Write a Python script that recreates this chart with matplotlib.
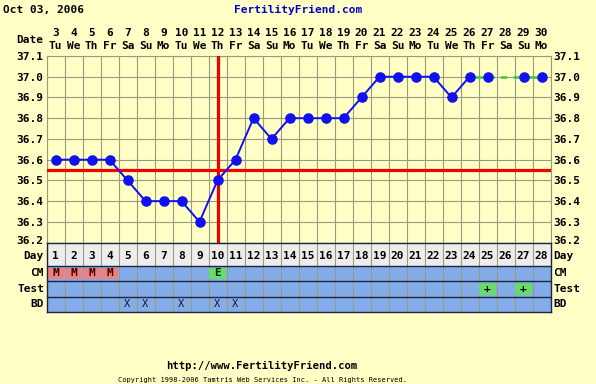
import matplotlib
matplotlib.use("Agg")
import matplotlib.pyplot as plt
from matplotlib.transforms import blended_transform_factory, ScaledTranslation
from matplotlib.patches import Rectangle

# ---------------- data ----------------
title_date = "Oct 03, 2006"
site = "FertilityFriend.com"
url = "http://www.FertilityFriend.com"
copyright_txt = "Copyright 1998-2006 Tamtris Web Services Inc. - All Rights Reserved."

days = list(range(1, 29))
dates = list(range(3, 31))
weekdays = ["Tu", "We", "Th", "Fr", "Sa", "Su", "Mo"] * 4
temps = [36.6, 36.6, 36.6, 36.6, 36.5, 36.4, 36.4, 36.4, 36.3, 36.5,
         36.6, 36.8, 36.7, 36.8, 36.8, 36.8, 36.8, 36.9, 37.0, 37.0,
         37.0, 37.0, 36.9, 37.0, 37.0, None, 37.0, 37.0]
green_from_day = 24
coverline = 36.55
ovulation_day = 10
y_ticks = [36.2, 36.3, 36.4, 36.5, 36.6, 36.7, 36.8, 36.9, 37.0, 37.1]

cm = ["M", "M", "M", "M", "", "", "", "", "", "E",
      "", "", "", "", "", "", "", "", "", "",
      "", "", "", "", "", "", "", ""]
test = [""] * 24 + ["+", "", "+", ""]
bd = ["", "", "", "", "X", "X", "", "X", "", "X",
      "X", "", "", "", "", "", "", "", "", "",
      "", "", "", "", "", "", "", ""]
row_names = ["Day", "CM", "Test", "BD"]
row_heights = [1.5, 1, 1, 1]

# ---------------- style ----------------
BG = "#FFFFC6"
GRID = "#9A9A80"
BLUE = "#1010F0"
RED = "#F00000"
GREEN = "#33CC33"
ROWBLUE = "#84ACE8"
DAYBG = "#EDEDED"
PINK = "#F08080"
CELLGREEN = "#66DD66"
DARK = "#1E2440"
MONO = "DejaVu Sans Mono"
FS = 8.0

W, H = 596, 384
fig = plt.figure(figsize=(W / 100, H / 100), dpi=100, facecolor=BG)

def fx(x):
    return x / W

def fy(y):
    return 1 - y / H

L, R = 46.5, 550.5
T, B = 56.0, 242.6
ax = fig.add_axes([fx(L), fy(B), fx(R - L), (B - T) / H])
ax.set_facecolor(BG)
ax.set_xlim(0.5, 28.5)
ax.set_ylim(36.2, 37.1)
for x in range(0, 29):
    ax.axvline(x + 0.5, color=GRID, lw=0.8, zorder=1)
for yv in y_ticks:
    ax.axhline(yv, color=GRID, lw=0.8, zorder=1)
for s in ax.spines.values():
    s.set_color(GRID)
    s.set_linewidth(0.8)
ax.set_xticks([])
ax.set_yticks(y_ticks)
ax.set_yticklabels([f"{v:.1f}" for v in y_ticks])
ax.tick_params(axis="y", length=0, pad=2, labelright=True, labelleft=True,
               labelsize=FS)
up = ScaledTranslation(0, 2.5 / 100, fig.dpi_scale_trans)
for lab in ax.get_yticklabels() + ax.yaxis.get_ticklabels(which="major"):
    lab.set_fontfamily(MONO)
    lab.set_fontweight("bold")
for t in ax.yaxis.get_major_ticks()[:1]:
    t.label1.set_transform(t.label1.get_transform() + up)
    t.label2.set_transform(t.label2.get_transform() + up)

# red lines
ax.axhline(coverline, color=RED, lw=2.3, zorder=3)
ax.axvline(ovulation_day, color=RED, lw=2.3, zorder=3)

# temperature line
blue_x = [d for d, t in zip(days, temps) if t is not None and d <= green_from_day]
blue_y = [t for d, t in zip(days, temps) if t is not None and d <= green_from_day]
ax.plot(blue_x, blue_y, color=BLUE, lw=1.4, zorder=4)
gx = [d for d, t in zip(days, temps) if t is not None and d >= green_from_day]
gy = [t for d, t in zip(days, temps) if t is not None and d >= green_from_day]
for i in range(len(gx) - 1):
    style = "-" if gx[i + 1] - gx[i] == 1 else (0, (2.5, 2.5))
    ax.plot([gx[i], gx[i + 1]], [gy[i], gy[i + 1]], color=GREEN, lw=1.8,
            linestyle=style, zorder=4)
px = [d for d, t in zip(days, temps) if t is not None]
py = [t for t in temps if t is not None]
ax.plot(px, py, linestyle="none", marker="o", ms=6.6, color=BLUE, zorder=5)

# header text
tr = blended_transform_factory(ax.transData, fig.transFigure)
font = dict(family=MONO, weight="bold", fontsize=FS)
for d, dt, wd in zip(days, dates, weekdays):
    ax.text(d, fy(33), str(dt), transform=tr, ha="center", va="center", **font)
    ax.text(d, fy(46), wd, transform=tr, ha="center", va="center", **font)
fig.text(fx(43), fy(40), "Date", ha="right", va="center", **font)
fig.text(fx(3), fy(10), title_date, ha="left", va="center", **font)
fig.text(fx(298), fy(10), site, ha="center", va="center", color="#0000CC", **font)
fig.text(fx(262), fy(366), url, ha="center", va="center", family=MONO,
         weight="bold", fontsize=7.6)
fig.text(fx(262), fy(380), copyright_txt, ha="center", va="center",
         family=MONO, fontsize=5.0)

# ---------------- bottom rows ----------------
B2 = 312.0
bx = fig.add_axes([fx(L), fy(B2), fx(R - L), (B2 - B) / H])
total = sum(row_heights)
bx.set_xlim(0.5, 28.5)
bx.set_ylim(total, 0)
bx.set_xticks([])
bx.set_yticks([])
for s in bx.spines.values():
    s.set_color(DARK)
    s.set_linewidth(1.0)

edges = [0]
for h in row_heights:
    edges.append(edges[-1] + h)
bx.add_patch(Rectangle((0.5, edges[0]), 28, row_heights[0], facecolor=DAYBG,
                       edgecolor="none", zorder=0))
bx.add_patch(Rectangle((0.5, edges[1]), 28, total - edges[1], facecolor=ROWBLUE,
                       edgecolor="none", zorder=0))
for x in range(0, 29):
    bx.axvline(x + 0.5, color=GRID, lw=0.8, zorder=1)
for e in edges[1:-1]:
    bx.axhline(e, color=DARK, lw=1.0, zorder=3)

def cell_fill(day, row, color):
    y0 = edges[row] + 0.12
    bx.add_patch(Rectangle((day - 0.45, y0), 0.9, row_heights[row] - 0.24,
                           facecolor=color, edgecolor="none", zorder=2))

day_y = (edges[0] + edges[1]) / 2 + 0.1
for d in days:
    bx.text(d, day_y, str(d), ha="center", va="center", **font)
for d, c in zip(days, cm):
    if c:
        cell_fill(d, 1, PINK if c == "M" else CELLGREEN)
        bx.text(d, (edges[1] + edges[2]) / 2, c, ha="center", va="center",
                color="#300000" if c == "M" else "#002000", **font)
for d, c in zip(days, test):
    if c:
        cell_fill(d, 2, CELLGREEN)
        bx.text(d, (edges[2] + edges[3]) / 2, c, ha="center", va="center",
                **font)
for d, c in zip(days, bd):
    if c:
        bx.text(d, (edges[3] + edges[4]) / 2, c, ha="center", va="center",
                family=MONO, fontsize=7.5, color="#101830")

trb = blended_transform_factory(fig.transFigure, bx.transData)
for i, (name, e0, e1) in enumerate(zip(row_names, edges[:-1], edges[1:])):
    yy = day_y if i == 0 else (e0 + e1) / 2
    bx.text(fx(44), yy, name, transform=trb, ha="right", va="center", **font)
    bx.text(fx(553), yy, name, transform=trb, ha="left", va="center", **font)

fig.savefig("out.png", dpi=100, facecolor=BG)
